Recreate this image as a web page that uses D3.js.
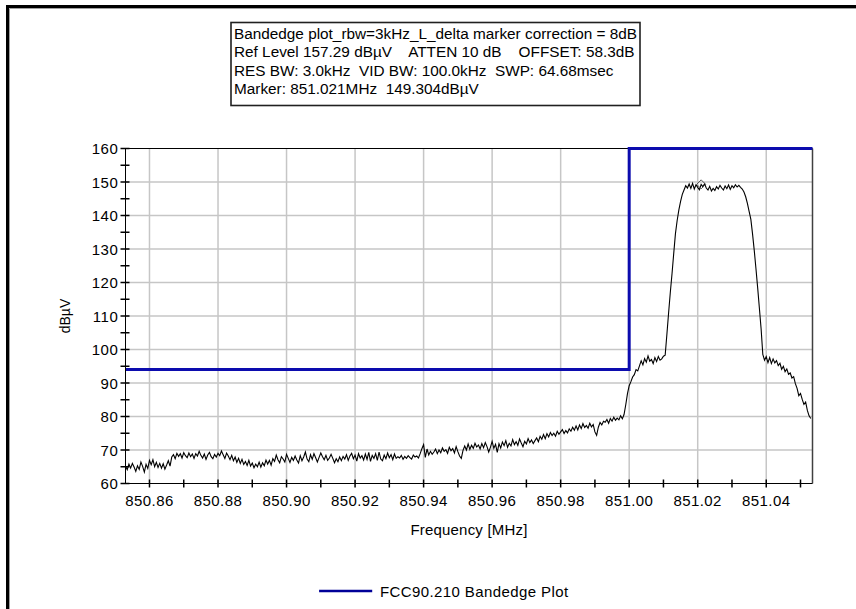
<!DOCTYPE html>
<html>
<head>
<meta charset="utf-8">
<script src="https://cdn.jsdelivr.net/npm/d3@7"></script>
<style>
  body { margin: 0; background: #fff; }
  svg { display: block; }
  text { font-family: "Liberation Sans", Arial, sans-serif; fill: #000; }
</style>
</head>
<body>
<svg id="chart" width="856" height="609"></svg>
<script>
// Sweep settings
const freqStart = 850.853;   // MHz
const freqStep = 0.0005;     // MHz per trace point

// Measured trace, dBµV (one row = 0.01 MHz)
const levels = [
  65.2, 64.1, 65.8, 64.6, 66.0, 64.9, 63.6, 65.3, 64.2, 66.4, 65.1, 63.4, 65.7, 64.5, 66.9, 65.6, 67.1, 65.0, 66.3, 64.8,
  66.0, 64.6, 65.9, 64.3, 65.5, 66.8, 65.2, 67.9, 68.6, 67.4, 69.0, 68.1, 68.9, 67.6, 69.2, 68.3, 67.7, 69.1, 68.0, 68.8,
  67.5, 68.9, 68.2, 69.6, 68.4, 67.6, 68.8, 67.2, 68.5, 69.3, 68.0, 67.4, 68.7, 67.9, 69.0, 68.3, 69.7, 68.6, 67.5, 69.1,
  68.2, 67.1, 68.4, 66.8, 67.9, 66.3, 67.5, 66.0, 67.2, 65.7, 66.6, 65.4, 66.9, 65.2, 66.1, 64.7, 65.8, 65.0, 66.4, 64.9,
  66.2, 65.3, 67.0, 65.8, 66.9, 65.5, 67.4, 66.6, 68.5, 67.1, 66.2, 68.0, 67.3, 66.4, 68.7, 67.5, 66.3, 67.8, 66.9, 68.2,
  67.0, 66.1, 68.3, 66.8, 67.9, 69.4, 67.3, 66.5, 68.6, 67.2, 68.9, 67.7, 66.4, 67.8, 69.1, 68.0, 67.1, 68.4, 66.9, 67.6,
  68.7, 67.5, 66.2, 67.4, 66.5, 67.9, 66.8, 68.1, 67.3, 68.6, 66.9, 68.2, 69.0, 67.4, 68.5, 66.7, 68.9, 67.6, 68.3, 67.0,
  68.8, 67.2, 69.3, 66.6, 68.4, 67.5, 68.9, 66.9, 69.4, 67.3, 66.8, 68.5, 67.4, 69.1, 67.7, 68.6, 67.1, 68.8, 67.5, 68.0,
  67.6, 68.4, 67.2, 68.1, 67.5, 68.3, 67.7, 67.3, 68.5, 67.9, 68.2, 67.6, 68.9, 70.4, 71.6, 67.8, 70.3, 68.5, 69.6, 68.7,
  69.4, 70.3, 68.9, 70.0, 69.2, 70.6, 69.6, 70.1, 69.0, 70.8, 69.8, 70.4, 69.1, 71.0, 69.5, 68.2, 67.5, 69.9, 71.2, 70.0,
  71.8, 70.2, 71.4, 70.5, 72.0, 70.9, 71.5, 70.3, 71.9, 70.7, 72.2, 71.0, 69.4, 70.8, 72.6, 70.5, 71.7, 69.3, 71.9, 70.6,
  72.4, 71.3, 72.8, 70.8, 72.0, 71.2, 73.1, 71.6, 72.5, 71.4, 73.3, 72.1, 71.0, 72.6, 71.8, 73.4, 72.2, 73.0, 71.9, 72.8,
  73.6, 72.5, 74.1, 73.2, 74.6, 73.4, 74.9, 73.9, 75.2, 74.3, 75.0, 74.1, 75.6, 74.7, 75.4, 76.1, 74.9, 75.8, 75.1, 76.3,
  75.6, 76.8, 75.9, 77.2, 76.0, 77.5, 76.4, 77.9, 76.7, 77.3, 76.5, 78.0, 76.9, 77.6, 75.4, 74.4, 76.8, 78.2, 77.5, 78.6,
  78.3, 79.1, 78.0, 79.4, 78.6, 79.8, 78.9, 79.5, 79.0, 80.2, 79.3, 80.6, 83.5, 86.8, 89.2, 90.4, 91.8, 92.5, 94.0, 93.6,
  95.1, 96.6, 95.4, 97.3, 96.2, 98.1, 96.5, 97.0, 95.8, 97.6, 96.4, 97.9, 96.8, 97.2, 98.0, 98.3, 104.5, 110.9, 117.0, 122.6,
  128.7, 134.6, 138.5, 141.7, 144.2, 146.3, 147.6, 148.9, 148.2, 149.4, 148.1, 149.6, 147.9, 149.2, 148.4, 147.7, 149.3, 148.6, 149.5, 148.2,
  147.6, 148.7, 147.3, 148.1, 147.5, 148.6, 147.9, 149.0, 148.2, 147.6, 148.8, 148.0, 149.1, 147.8, 148.9, 148.3, 149.2, 148.5, 149.0, 148.4,
  147.9, 147.0, 145.6, 143.6, 141.2, 138.9, 134.5, 129.6, 124.1, 118.4, 112.3, 106.2, 98.5, 96.8, 97.9, 96.1, 97.6, 95.8, 97.2, 96.0,
  96.7, 95.2, 95.9, 94.1, 95.0, 93.4, 94.2, 92.6, 93.0, 91.5, 91.9, 89.8, 88.4, 86.2, 86.9, 85.1, 83.6, 84.3, 81.8, 80.2,
  79.4
];

// FCC 90.210 band-edge limit
const limitFreqs = [850.853, 851.000, 851.000, 851.0535];
const limitLevels = [94, 94, 160, 160];

// Peak marker
const markerFreq = 851.021;
const markerLevel = 149.304;

// Axis ticks
const xMajorTicks = [850.86, 850.88, 850.90, 850.92, 850.94, 850.96, 850.98, 851.00, 851.02, 851.04];
const xMinorTicks = [850.87, 850.89, 850.91, 850.93, 850.95, 850.97, 850.99, 851.01, 851.03, 851.05];
const yMajorTicks = [60, 70, 80, 90, 100, 110, 120, 130, 140, 150, 160];
const yMinorTicks = [65, 75, 85, 95, 105, 115, 125, 135, 145, 155];

const infoLines = [
  "Bandedge plot_rbw=3kHz_L_delta marker correction = 8dB",
  "Ref Level 157.29 dBµV    ATTEN 10 dB    OFFSET: 58.3dB",
  "RES BW: 3.0kHz  VID BW: 100.0kHz  SWP: 64.68msec",
  "Marker: 851.021MHz  149.304dBµV"
];

const svg = d3.select("#chart");
const plot = { left: 125.5, right: 812.5, top: 148.5, bottom: 483.5 };

const x = d3.scaleLinear().domain([850.853, 851.0535]).range([plot.left, plot.right]);
const y = d3.scaleLinear().domain([60, 160]).range([plot.bottom, plot.top]);

// Window frame
svg.append("path")
  .attr("d", "M7.5,609 V6.5 H856")
  .attr("fill", "none").attr("stroke", "#000").attr("stroke-width", 3);
svg.append("path")
  .attr("d", "M9.5,609 V8.5 H856")
  .attr("fill", "none").attr("stroke", "#a0a0a0").attr("stroke-width", 1);

// Settings box
const box = svg.append("g");
const boxRect = box.append("rect")
  .attr("x", 231).attr("y", 22.5).attr("width", 409).attr("height", 83)
  .attr("fill", "#fff").attr("stroke", "#202020").attr("stroke-width", 1.6);
const infoText = box.selectAll("text").data(infoLines).join("text")
  .attr("x", 234)
  .attr("y", (d, i) => 39 + i * 18.3)
  .style("font-size", "14px")
  .style("white-space", "pre")
  .attr("xml:space", "preserve")
  .text(d => d);
// fit the widest line inside the box
const firstWidth = infoText.nodes()[0].getComputedTextLength();
const fitSize = 14 * 403 / firstWidth;
infoText.style("font-size", fitSize.toFixed(2) + "px");

// Grid
const grid = svg.append("g").attr("stroke", "#c6c6c6").attr("stroke-width", 1.5);
grid.selectAll(".gx").data(xMajorTicks).join("line")
  .attr("x1", d => x(d)).attr("x2", d => x(d))
  .attr("y1", plot.top).attr("y2", plot.bottom);
grid.selectAll(".gy").data(yMajorTicks.filter(v => v > 60 && v < 160)).join("line")
  .attr("x1", plot.left).attr("x2", plot.right)
  .attr("y1", d => y(d)).attr("y2", d => y(d));

// Plot frame (top and right)
svg.append("line").attr("x1", plot.left).attr("x2", plot.right)
  .attr("y1", plot.top).attr("y2", plot.top).attr("stroke", "#000").attr("stroke-width", 1);
svg.append("line").attr("x1", plot.right).attr("x2", plot.right)
  .attr("y1", plot.top).attr("y2", plot.bottom).attr("stroke", "#404040").attr("stroke-width", 1.5);

// Trace
const trace = levels.map((v, i) => [freqStart + i * freqStep, v]);
svg.append("path")
  .datum(trace)
  .attr("fill", "none").attr("stroke", "#000").attr("stroke-width", 1.1)
  .attr("stroke-linejoin", "miter")
  .attr("d", d3.line().x(d => x(d[0])).y(d => y(d[1])));

// Limit line
const limit = limitFreqs.map((f, i) => [f, limitLevels[i]]);
svg.append("path")
  .datum(limit)
  .attr("fill", "none").attr("stroke", "#0c0cae").attr("stroke-width", 3)
  .attr("d", d3.line().x(d => x(d[0])).y(d => y(d[1])));

// Marker diamond
const mx = x(markerFreq), my = y(markerLevel);
svg.append("path")
  .attr("d", `M${mx},${my - 4.5} L${mx + 4.5},${my} L${mx},${my + 4.5} L${mx - 4.5},${my} Z`)
  .attr("fill", "none").attr("stroke", "#555").attr("stroke-width", 1);

// Axes
const tickStyle = g => {
  g.select(".domain").remove();
  g.selectAll("text").style("font-size", "15px").style("letter-spacing", "0.4px");
};
const xAxis = svg.append("g").attr("transform", `translate(0,${plot.bottom})`);
xAxis.append("line").attr("x1", plot.left).attr("x2", plot.right).attr("stroke", "#000");
xAxis.selectAll(".xt").data(xMajorTicks.concat(xMinorTicks).filter(f => x(f) <= plot.right)).join("line")
  .attr("x1", d => x(d)).attr("x2", d => x(d)).attr("y1", -4).attr("y2", 4)
  .attr("stroke", "#000").attr("stroke-width", 1.5);
xAxis.selectAll(".xl").data(xMajorTicks).join("text")
  .attr("x", d => x(d)).attr("y", 22)
  .attr("text-anchor", "middle")
  .style("font-size", "15px").style("letter-spacing", "0.4px")
  .text(d => d3.format(".2f")(d));

const yAxis = svg.append("g").attr("transform", `translate(${plot.left},0)`);
yAxis.append("line").attr("y1", plot.top).attr("y2", plot.bottom).attr("stroke", "#000");
yAxis.selectAll(".yt").data(yMajorTicks.concat(yMinorTicks)).join("line")
  .attr("y1", d => y(d)).attr("y2", d => y(d)).attr("x1", -5).attr("x2", 4)
  .attr("stroke", "#000").attr("stroke-width", 1.5);
yAxis.selectAll(".yl").data(yMajorTicks).join("text")
  .attr("x", -7).attr("y", d => y(d) + 5.5)
  .attr("text-anchor", "end")
  .style("font-size", "15px").style("letter-spacing", "0.6px")
  .text(d => d);

// Axis titles
svg.append("text")
  .attr("x", 469).attr("y", 535)
  .attr("text-anchor", "middle")
  .style("font-size", "15px").style("letter-spacing", "0.2px")
  .text("Frequency [MHz]");
svg.append("text")
  .attr("transform", "translate(70,316) rotate(-90)")
  .attr("text-anchor", "middle")
  .style("font-size", "14px")
  .text("dBµV");

// Legend
svg.append("line")
  .attr("x1", x(850.9095)).attr("x2", x(850.925))
  .attr("y1", 591).attr("y2", 591)
  .attr("stroke", "#000098").attr("stroke-width", 2.5);
svg.append("text")
  .attr("x", 380).attr("y", 596.5)
  .style("font-size", "15px").style("letter-spacing", "0.4px")
  .text("FCC90.210 Bandedge Plot");
</script>
</body>
</html>
